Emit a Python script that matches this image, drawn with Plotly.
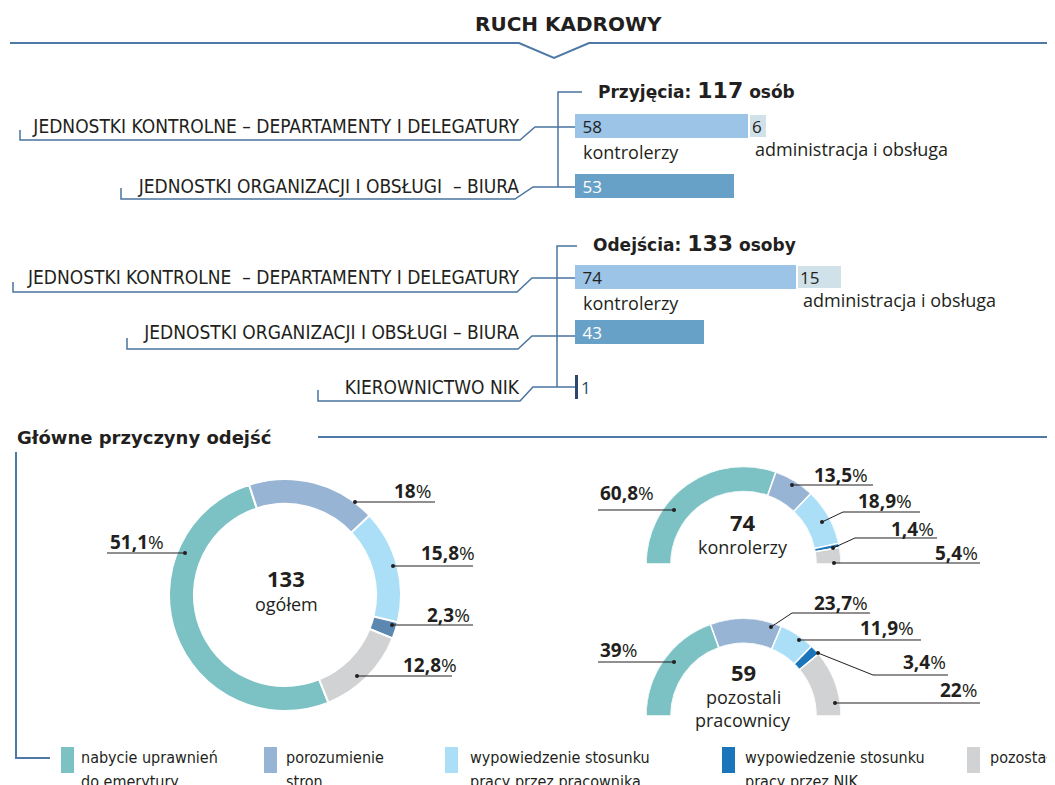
import plotly.graph_objects as go

# strona ma 8 px marginesu, wiec wykres 1047x777 zaczyna sie w (8, 8)
OFF = 8
W, H = 1055 - OFF, 785 - OFF


def X(px):
    return (px - OFF) / W


def Y(py):
    return 1 - (py - OFF) / H


# ---- dane ----
przyj_kategorie = ["JEDNOSTKI KONTROLNE – DEPARTAMENTY I DELEGATURY",
                   "JEDNOSTKI ORGANIZACJI I OBSŁUGI  – BIURA"]
przyj_glowne = [58, 53]
przyj_administracja = [6, None]

odej_kategorie = ["JEDNOSTKI KONTROLNE  – DEPARTAMENTY I DELEGATURY",
                  "JEDNOSTKI ORGANIZACJI I OBSŁUGI – BIURA",
                  "KIEROWNICTWO NIK"]
odej_glowne = [74, 43, 1]
odej_administracja = [15, None, None]

przyczyny = ["nabycie uprawnień<br>do emerytury", "porozumienie<br>stron",
             "wypowiedzenie stosunku<br>pracy przez pracownika",
             "wypowiedzenie stosunku<br>pracy przez NIK", "pozostałe"]
odejscia_ogolem = [51.1, 18, 15.8, 2.3, 12.8]
odejscia_kontrolerzy = [60.8, 13.5, 18.9, 1.4, 5.4]
odejscia_pozostali = [39, 23.7, 11.9, 3.4, 22]

przyj_suma = sum(przyj_glowne) + sum(v for v in przyj_administracja if v)
odej_suma = sum(odej_glowne) + sum(v for v in odej_administracja if v)
odej_kontrolerzy = odej_glowne[0]
odej_pozostali = odej_suma - odej_kontrolerzy

# ---- style ----
COND = "Liberation Sans Narrow, DejaVu Sans Condensed, Arial Narrow, sans-serif"
MAIN = "Open Sans, Noto Sans, sans-serif"
HEAD = "DejaVu Sans, Open Sans, sans-serif"
TXT = "#231f20"
LINIA = "#4a74a0"
BAR_COL = ["#9cc4e7", "#68a1c8", "#2b4a6b"]
ADM_COL = "#d0e1ea"
KOL = ["#7cc1c3", "#97b4d4", "#aadff7", "#1b75bb", "#d1d2d4"]
KOL_OGOLEM = ["#7cc1c3", "#97b4d4", "#aadff7", "#5b87b0", "#d1d2d4"]

fig = go.Figure()

# ---- slupki ----
fig.add_trace(go.Bar(y=przyj_kategorie, x=przyj_glowne, orientation="h", xaxis="x", yaxis="y",
                     width=0.4, marker=dict(color=BAR_COL[:2], line_width=0),
                     texttemplate="\u00a0%{x}", textposition="inside", insidetextanchor="start",
                     textangle=0, constraintext="none",
                     textfont=dict(family=MAIN, size=17, color=[TXT, "white"]),
                     hoverinfo="skip"))
fig.add_trace(go.Bar(y=przyj_kategorie, x=przyj_administracja, base=przyj_glowne, orientation="h",
                     xaxis="x", yaxis="y", width=0.4,
                     marker=dict(color=ADM_COL, line=dict(color="white", width=2)),
                     texttemplate="%{x}", textposition="inside", insidetextanchor="start",
                     textangle=0, constraintext="none", textfont=dict(family=MAIN, size=17, color=TXT),
                     hoverinfo="skip"))
fig.add_trace(go.Bar(y=odej_kategorie, x=odej_glowne, orientation="h", xaxis="x", yaxis="y2",
                     width=0.44, marker=dict(color=BAR_COL, line_width=0),
                     texttemplate=["\u00a0%{x}", "\u00a0%{x}", "%{x}"],
                     textposition=["inside", "inside", "outside"],
                     insidetextanchor="start", textangle=0, constraintext="none", cliponaxis=False,
                     textfont=dict(family=MAIN, size=17, color=[TXT, "white", BAR_COL[2]]),
                     hoverinfo="skip"))
fig.add_trace(go.Bar(y=odej_kategorie, x=odej_administracja, base=odej_glowne, orientation="h",
                     xaxis="x", yaxis="y2", width=0.44,
                     marker=dict(color=ADM_COL, line=dict(color="white", width=2)),
                     texttemplate="%{x}", textposition="inside", insidetextanchor="start",
                     textangle=0, constraintext="none", textfont=dict(family=MAIN, size=17, color=TXT),
                     hoverinfo="skip"))

# ---- duzy pierscien ----
fig.add_trace(go.Pie(values=odejscia_ogolem, labels=przyczyny, hole=0.785, sort=False,
                     direction="clockwise", rotation=158, textinfo="none", hoverinfo="skip",
                     marker=dict(colors=KOL_OGOLEM, line=dict(color="white", width=2)),
                     domain=dict(x=[X(169), X(401)], y=[Y(711), Y(479)])))


# ---- polpierscienie ----
def pol_pierscien(values, name, cy):
    theta, szer, cum = [], [], 0
    for v in values:
        theta.append((cum + v / 2) * 1.8)
        szer.append(v * 1.8)
        cum += v
    fig.add_trace(go.Barpolar(r=[1] * len(values), theta=theta, width=szer, subplot=name,
                              marker=dict(color=KOL, line=dict(color="white", width=1.5)),
                              hoverinfo="skip"))
    return dict(domain=dict(x=[X(646), X(841)], y=[Y(cy), Y(cy - 97.5)]), sector=[0, 180],
                hole=0.744, bgcolor="rgba(0,0,0,0)",
                angularaxis=dict(rotation=180, direction="clockwise", visible=False),
                radialaxis=dict(range=[0, 1], visible=False))


polar1 = pol_pierscien(odejscia_kontrolerzy, "polar", 564)
polar2 = pol_pierscien(odejscia_pozostali, "polar2", 716)

shapes = []
annotations = []


def linia(pts, color=LINIA, width=1.5):
    p = "M" + " L".join(f"{X(a):.5f},{Y(b):.5f}" for a, b in pts)
    shapes.append(dict(type="path", xref="paper", yref="paper", path=p,
                       line=dict(color=color, width=width)))


def kropka(x, y):
    shapes.append(dict(type="circle", xref="paper", yref="paper", x0=X(x - 2), x1=X(x + 2),
                       y0=Y(y + 2), y1=Y(y - 2), fillcolor=TXT, line_width=0))


def napis(x, y, text, size=17, family=MAIN, xanchor="center", color=TXT, yanchor="middle",
          align="center"):
    annotations.append(dict(x=X(x), y=Y(y), xref="paper", yref="paper", text=text, showarrow=False,
                            xanchor=xanchor, yanchor=yanchor, align=align,
                            font=dict(family=family, size=size, color=color)))


# naglowek
napis(568, 24, "<b>RUCH KADROWY</b>", size=20, family=HEAD)
linia([(10, 43), (519, 43), (554, 58), (589, 43), (1055, 43)], color="#4e78a5", width=2)

# przyjecia
napis(596, 90, f"<b>Przyjęcia: <span style='font-size:22px'>{przyj_suma}</span> osób</b>",
      size=17, family=HEAD, xanchor="left")
linia([(582, 92), (558, 92), (558, 187)])
linia([(20, 130), (20, 140), (520, 140), (535, 127), (575, 127)])
linia([(121, 188), (121, 199), (515, 199), (533, 187), (575, 187)])

# odejscia
napis(591, 243, f"<b>Odejścia: <span style='font-size:22px'>{odej_suma}</span> osoby</b>",
      size=17, family=HEAD, xanchor="left")
linia([(577, 246), (557, 246), (557, 387)])
linia([(13, 282), (13, 292), (517, 292), (532, 278), (575, 278)])
linia([(127, 338), (127, 349), (518, 349), (532, 336), (575, 336)])
linia([(318, 390), (318, 401), (520, 401), (533, 387), (575, 387)])

# podpisy pod slupkami
for yref, cat, base in [("y", przyj_kategorie[0], przyj_glowne[0]),
                        ("y2", odej_kategorie[0], odej_glowne[0])]:
    annotations.append(dict(x=0, y=cat, xref="x", yref=yref, text="kontrolerzy", showarrow=False,
                            xanchor="left", xshift=6, yshift=-26,
                            font=dict(family=MAIN, size=18, color=TXT)))
    annotations.append(dict(x=base, y=cat, xref="x", yref=yref, text="administracja i obsługa",
                            showarrow=False, xanchor="left", xshift=4, yshift=-23,
                            font=dict(family=MAIN, size=18, color=TXT)))

# sekcja przyczyn
napis(15, 437, "<b>Główne przyczyny odejść</b>", size=18, family=HEAD, xanchor="left")
linia([(318, 437), (1055, 437)], color="#4e78a5", width=2)
linia([(16, 452), (16, 758), (50, 758)], color="#4e78a5", width=2)


def pct(v):
    return f"<b>{v:g}</b>%".replace(".", ",")


def etykiety(values, teksty, sciezki):
    for v, (tx, ty, side), pts in zip(values, teksty, sciezki):
        linia(pts, color=TXT, width=1)
        kropka(*pts[0])
        napis(tx, ty, pct(v), size=19, xanchor=side)


etykiety(odejscia_ogolem,
         [(108, 542, "left"), (433, 491, "right"), (477, 553, "right"), (472, 615, "right"),
          (459, 665, "right")],
         [[(185, 553), (107, 553)], [(355, 502), (435, 502)], [(393, 566), (473, 566)],
          [(392, 625), (473, 625)], [(357, 676), (452, 676)]])
etykiety(odejscia_kontrolerzy,
         [(598, 493, "left"), (870, 475, "right"), (914, 501, "right"), (936, 529, "right"),
          (980, 553, "right")],
         [[(674, 510), (598, 510)], [(792, 485), (873, 485)], [(822, 522), (843, 512), (920, 512)],
          [(833, 548), (855, 538), (937, 538)], [(834, 563), (980, 563)]])
etykiety(odejscia_pozostali,
         [(598, 650, "left"), (870, 603, "right"), (916, 628, "right"), (948, 662, "right"),
          (979, 690, "right")],
         [[(674, 662), (598, 662)], [(771, 627), (792, 613), (870, 613)], [(799, 640), (921, 640)],
          [(818, 653), (873, 675), (948, 675)], [(835, 703), (980, 703)]])

# srodki pierscieni
napis(286, 578, f"<b>{odej_suma}</b>", size=22)
napis(286, 604, "ogółem", size=18)
napis(743, 522, f"<b>{odej_kontrolerzy}</b>", size=22)
napis(743, 547, "konrolerzy", size=18)
napis(743, 672, f"<b>{odej_pozostali}</b>", size=22)
napis(743, 697, "pozostali", size=18)
napis(743, 720, "pracownicy", size=18)

# legenda (wiersze tekstu co 24 px)
for kol, tekst, lx, tx in zip(KOL, przyczyny, [61, 264, 445, 722, 967], [79, 284, 468, 743, 988]):
    shapes.append(dict(type="rect", xref="paper", yref="paper", x0=X(lx), x1=X(lx + 13),
                       y0=Y(773), y1=Y(747), fillcolor=kol, line_width=0))
    for i, wiersz in enumerate(tekst.split("<br>")):
        napis(tx, 757 + 24 * i, wiersz, size=16, family=COND, xanchor="left")

axis_y = dict(type="category", anchor="x", showgrid=False, zeroline=False, showline=False,
              ticks="", ticklabelstandoff=55, tickfont=dict(family=COND, size=19, color=TXT))

fig.update_layout(
    width=W, height=H, autosize=False, margin=dict(l=0, r=0, t=0, b=0),
    paper_bgcolor="white", plot_bgcolor="rgba(0,0,0,0)", showlegend=False, barmode="overlay",
    xaxis=dict(domain=[X(575), 1], range=[0, 160], visible=False, anchor="y"),
    yaxis=dict(axis_y, domain=[Y(216), Y(96)], categoryorder="array",
               categoryarray=przyj_kategorie, range=[1.5, -0.5]),
    yaxis2=dict(axis_y, domain=[Y(414.5), Y(249.5)], categoryorder="array",
                categoryarray=odej_kategorie, range=[2.5, -0.5]),
    polar=polar1, polar2=polar2,
    shapes=shapes, annotations=annotations,
)

fig.write_html("out.html")
